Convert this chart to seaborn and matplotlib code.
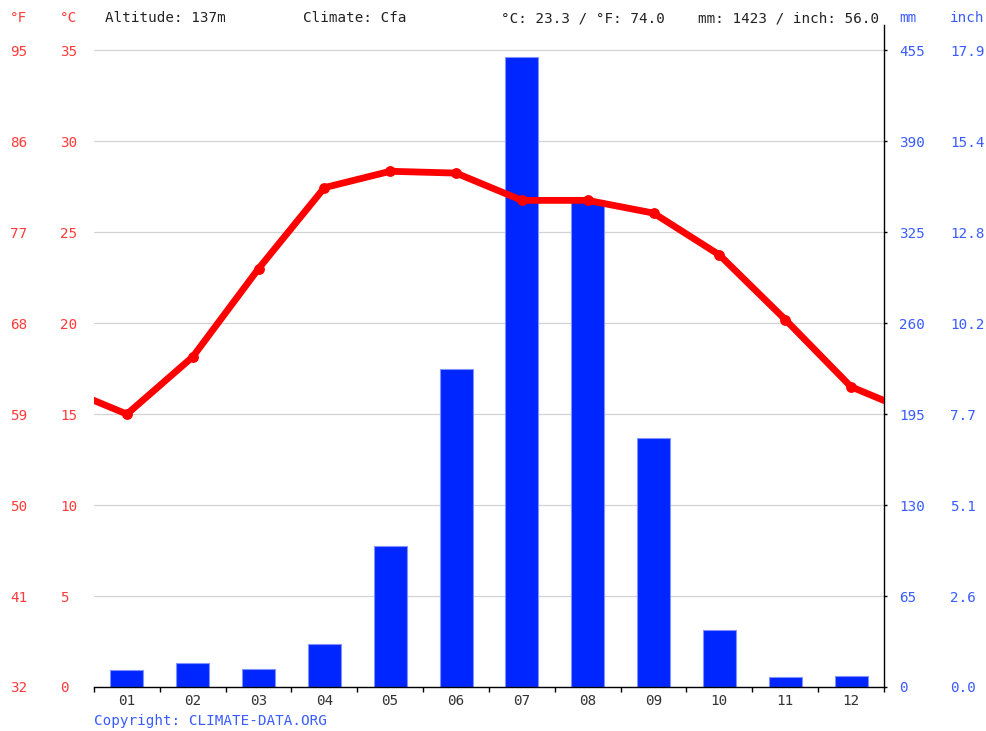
import numpy as np
import pandas as pd
import matplotlib
matplotlib.use("Agg")
import matplotlib.pyplot as plt
import seaborn as sns

# monthly climate values
months = ["01", "02", "03", "04", "05", "06", "07", "08", "09", "10", "11", "12"]
temp_c = [15.0, 18.15, 23.0, 27.45, 28.35, 28.25, 26.75, 26.75, 26.05, 23.75, 20.2, 16.5]
precip_mm = [12, 17, 13, 31, 101, 227, 450, 348, 178, 41, 7, 8]

c_ticks = [0, 5, 10, 15, 20, 25, 30, 35]
mm_ticks = [0, 65, 130, 195, 260, 325, 390, 455]

sns.set_style("white")
plt.rcParams["font.family"] = ["DejaVu Sans Mono", "DejaVu Sans"]
fs = 10.3

RED_TXT = "#ff3b3b"
BLUE_TXT = "#3a5cff"

fig = plt.figure(figsize=(9.87, 7.31), dpi=100)
W, H = 987, 731
ax = fig.add_axes([94 / W, (H - 687) / H, (884 - 94) / W, (687 - 25) / H])
ax2 = ax.twinx()

# bars on the twin axis, line on the primary axis kept above it
bar_df = pd.DataFrame({"month": months, "mm": precip_mm})
sns.barplot(data=bar_df, x="month", y="mm", ax=ax2, color="#0026ff", saturation=1,
            width=0.5, edgecolor="#8093ff", linewidth=0.8, zorder=2)

# wrap the line around Dec/Jan so it runs to the edges
x_line = [-1] + list(range(len(months))) + [len(months)]
y_line = [temp_c[-1]] + temp_c + [temp_c[0]]
sns.lineplot(x=x_line, y=y_line, ax=ax, color="#ff0000", linewidth=4.9,
             marker="o", markersize=7.8, markeredgewidth=0, sort=False)

ax.set_zorder(ax2.get_zorder() + 1)
ax.patch.set_visible(False)
ax2.patch.set_visible(True)
ax2.patch.set_facecolor("white")

top_c = 35 * 662 / 636.7
top_mm = 455 * 662 / 636.7
ax.set_ylim(0, top_c)
ax2.set_ylim(0, top_mm)
ax.set_xlim(-0.5, len(months) - 0.5)

# gridlines under the bars
ax2.set_yticks(mm_ticks)
ax2.yaxis.grid(True, color="#d3d3d3", linewidth=0.9)
ax2.set_axisbelow(True)
ax2.tick_params(axis="y", right=True, length=2.2, width=1, color="black",
                pad=8.6, labelsize=fs, labelcolor=BLUE_TXT)
ax2.set_xlabel("")
ax2.set_ylabel("")

# celsius labels on the left
ax.set_yticks(c_ticks)
ax.tick_params(axis="y", left=True, length=0, pad=24.5, labelsize=fs, labelcolor=RED_TXT)
plt.setp(ax.get_yticklabels(), ha="left")
ax.set_ylabel("")
ax.set_xlabel("")

sec_f = ax.secondary_yaxis("left", functions=(lambda c: c * 9 / 5 + 32, lambda f: (f - 32) * 5 / 9))
sec_f.set_yticks([c * 9 / 5 + 32 for c in c_ticks])
sec_f.set_yticklabels([f"{c * 9 / 5 + 32:.0f}" for c in c_ticks])
sec_f.tick_params(axis="y", length=0, pad=60.5, labelsize=fs, labelcolor=RED_TXT)
plt.setp(sec_f.get_yticklabels(), ha="left")
sec_f.spines["left"].set_visible(False)

sec_in = ax2.secondary_yaxis("right", functions=(lambda m: m / 25.4, lambda i: i * 25.4))
sec_in.set_yticks([m / 25.4 for m in mm_ticks])
sec_in.set_yticklabels([f"{m / 25.4:.1f}" for m in mm_ticks])
sec_in.tick_params(axis="y", length=0, pad=47.5, labelsize=fs, labelcolor=BLUE_TXT)
sec_in.spines["right"].set_visible(False)

# month axis: ticks at boundaries, labels at centres
ax.set_xticks(np.arange(-0.5, len(months), 1.0))
ax.set_xticklabels([])
ax.set_xticks(range(len(months)), minor=True)
ax.set_xticklabels(months, minor=True)
ax.tick_params(axis="x", which="major", bottom=True, length=3.5, width=1, color="black")
ax.tick_params(axis="x", which="minor", bottom=True, length=0, pad=5, labelsize=fs,
               labelcolor="#333333")

for a in (ax, ax2):
    for s in ("top", "left"):
        a.spines[s].set_visible(False)
ax.spines["right"].set_visible(False)
ax2.spines["bottom"].set_visible(False)
ax.spines["bottom"].set_color("black")
ax.spines["bottom"].set_linewidth(1)
ax2.spines["right"].set_visible(True)
ax2.spines["right"].set_color("black")
ax2.spines["right"].set_linewidth(1)

# header and footer text
y_head = 1 - 18.5 / H
fig.text(10 / W, y_head, "°F", color=RED_TXT, fontsize=fs, va="center")
fig.text(60 / W, y_head, "°C", color=RED_TXT, fontsize=fs, va="center")
fig.text(105 / W, y_head, "Altitude: 137m", color="#222222", fontsize=fs, va="center")
fig.text(303 / W, y_head, "Climate: Cfa", color="#222222", fontsize=fs, va="center")
fig.text(501 / W, y_head, "°C: 23.3 / °F: 74.0", color="#222222", fontsize=fs, va="center")
fig.text(698 / W, y_head, "mm: 1423 / inch: 56.0", color="#222222", fontsize=fs, va="center")
fig.text(899 / W, y_head, "mm", color=BLUE_TXT, fontsize=fs, va="center")
fig.text(950 / W, y_head, "inch", color=BLUE_TXT, fontsize=fs, va="center")
fig.text(94 / W, 1 - 721 / H, "Copyright: CLIMATE-DATA.ORG", color=BLUE_TXT, fontsize=fs,
         va="center")

fig.savefig("out.png", dpi=100, facecolor="white")
